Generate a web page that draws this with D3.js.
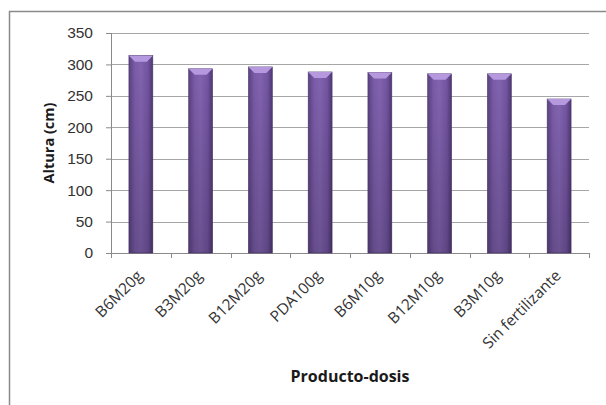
<!DOCTYPE html>
<html>
<head>
<meta charset="utf-8">
<script src="https://cdn.jsdelivr.net/npm/d3@7"></script>
<style>
  html, body { margin: 0; padding: 0; background: #fff; }
  svg { display: block; font-family: "Open Sans", Lato, sans-serif; }
</style>
</head>
<body>
<div id="chart"></div>
<script>
// ── Data ─────────────────────────────────────────────────────────────────
const categories = ["B6M20g", "B3M20g", "B12M20g", "PDA100g", "B6M10g", "B12M10g", "B3M10g", "Sin fertilizante"];
const alturas    = [314, 293, 296, 288, 287, 285, 285, 245];
const yTicks     = [0, 50, 100, 150, 200, 250, 300, 350];

const W = 606, H = 405;
const margin = { top: 33, right: 17, bottom: 152, left: 111 };
const width  = W - margin.left - margin.right,
      height = H - margin.top  - margin.bottom;

const svg = d3.select("#chart").append("svg")
  .attr("width", W).attr("height", H);

// gradients for the bars
const defs = svg.append("defs");
const gH = defs.append("linearGradient").attr("id", "barH")
  .attr("x1", "0%").attr("x2", "100%").attr("y1", "0%").attr("y2", "0%");
gH.append("stop").attr("offset", "0%").attr("stop-color", "#5b4282");
gH.append("stop").attr("offset", "25%").attr("stop-color", "#7a5ca8");
gH.append("stop").attr("offset", "50%").attr("stop-color", "#8263b0");
gH.append("stop").attr("offset", "80%").attr("stop-color", "#7254a0");
gH.append("stop").attr("offset", "100%").attr("stop-color", "#4f3873");
const gV = defs.append("linearGradient").attr("id", "barV")
  .attr("x1", "0%").attr("x2", "0%").attr("y1", "0%").attr("y2", "100%");
gV.append("stop").attr("offset", "0%").attr("stop-color", "#000").attr("stop-opacity", 0);
gV.append("stop").attr("offset", "100%").attr("stop-color", "#000").attr("stop-opacity", 0.18);

// outer chart frame (cropped by the picture on right and bottom)
svg.append("rect")
  .attr("x", 9.5).attr("y", 11.5)
  .attr("width", W + 20).attr("height", H + 20)
  .attr("fill", "none").attr("stroke", "#8a8a8a").attr("stroke-width", 1.5);

const g = svg.append("g")
  .attr("transform", `translate(${margin.left},${margin.top})`);

const x = d3.scaleBand()
  .domain(categories)
  .range([0, width])
  .paddingInner(0.6).paddingOuter(0.3);

const y = d3.scaleLinear()
  .domain([0, 350])
  .range([height, 0]);

// gridlines
g.append("g")
  .selectAll("line")
  .data(yTicks.filter(d => d > 0))
  .enter().append("line")
    .attr("x1", 0).attr("x2", width)
    .attr("y1", d => Math.round(y(d)) + 0.5)
    .attr("y2", d => Math.round(y(d)) + 0.5)
    .attr("stroke", "#a6a6a6").attr("stroke-width", 1);

// y axis
const yAxisG = g.append("g")
  .call(d3.axisLeft(y).tickValues(yTicks).tickSize(5).tickPadding(13));
yAxisG.select("path.domain").attr("stroke", "#8a8a8a").attr("d", `M0.5,0V${height}`);
yAxisG.selectAll(".tick line").attr("stroke", "#8a8a8a");
yAxisG.selectAll("text")
  .style("font-size", "15.5px").attr("fill", "#333");

// x axis: ticks at band boundaries
const xAxisG = g.append("g").attr("transform", `translate(0,${height})`);
xAxisG.append("line")
  .attr("x1", 0).attr("x2", width).attr("y1", 0.5).attr("y2", 0.5)
  .attr("stroke", "#8a8a8a");
xAxisG.selectAll(".xt")
  .data(d3.range(categories.length + 1))
  .enter().append("line")
    .attr("class", "xt")
    .attr("x1", i => Math.round(i * width / categories.length) + 0.5)
    .attr("x2", i => Math.round(i * width / categories.length) + 0.5)
    .attr("y1", 0).attr("y2", 5)
    .attr("stroke", "#8a8a8a");

// x labels, rotated -45
xAxisG.selectAll(".xl")
  .data(categories)
  .enter().append("text")
    .attr("class", "xl")
    .attr("transform", d => `translate(${x(d) + x.bandwidth() / 2 - 5},${16}) rotate(-45)`)
    .attr("text-anchor", "end")
    .attr("dy", "0.7em")
    .style("font-size", "15.5px")
    .attr("fill", "#333")
    .text(d => d);

// bars
const bars = g.selectAll(".bar")
  .data(categories.map((c, i) => ({ c, v: alturas[i] })))
  .enter().append("g").attr("class", "bar");

bars.append("rect")
  .attr("x", d => x(d.c)).attr("y", d => y(d.v))
  .attr("width", x.bandwidth()).attr("height", d => height - y(d.v))
  .attr("fill", "url(#barH)")
  .attr("stroke", "#4a356b").attr("stroke-width", 0.6);
bars.append("rect")
  .attr("x", d => x(d.c)).attr("y", d => y(d.v))
  .attr("width", x.bandwidth()).attr("height", d => height - y(d.v))
  .attr("fill", "url(#barV)");
// lighter bevel on the top
bars.append("path")
  .attr("d", d => {
    const x0 = x(d.c), x1 = x0 + x.bandwidth(), t = y(d.v), b = 6;
    return `M${x0},${t}L${x1},${t}L${x1 - b},${t + b}L${x0 + b},${t + b}Z`;
  })
  .attr("fill", "#b598de");

// axis titles
g.append("text")
  .attr("transform", `translate(-57,${height / 2}) rotate(-90)`)
  .attr("text-anchor", "middle")
  .style("font-size", "14.5px").style("font-weight", "bold")
  .attr("fill", "#1a1a1a")
  .text("Altura (cm)");

g.append("text")
  .attr("x", width / 2).attr("y", height + 129)
  .attr("text-anchor", "middle")
  .style("font-size", "16px").style("font-weight", "bold")
  .attr("fill", "#1a1a1a")
  .text("Producto-dosis");
</script>
</body>
</html>
